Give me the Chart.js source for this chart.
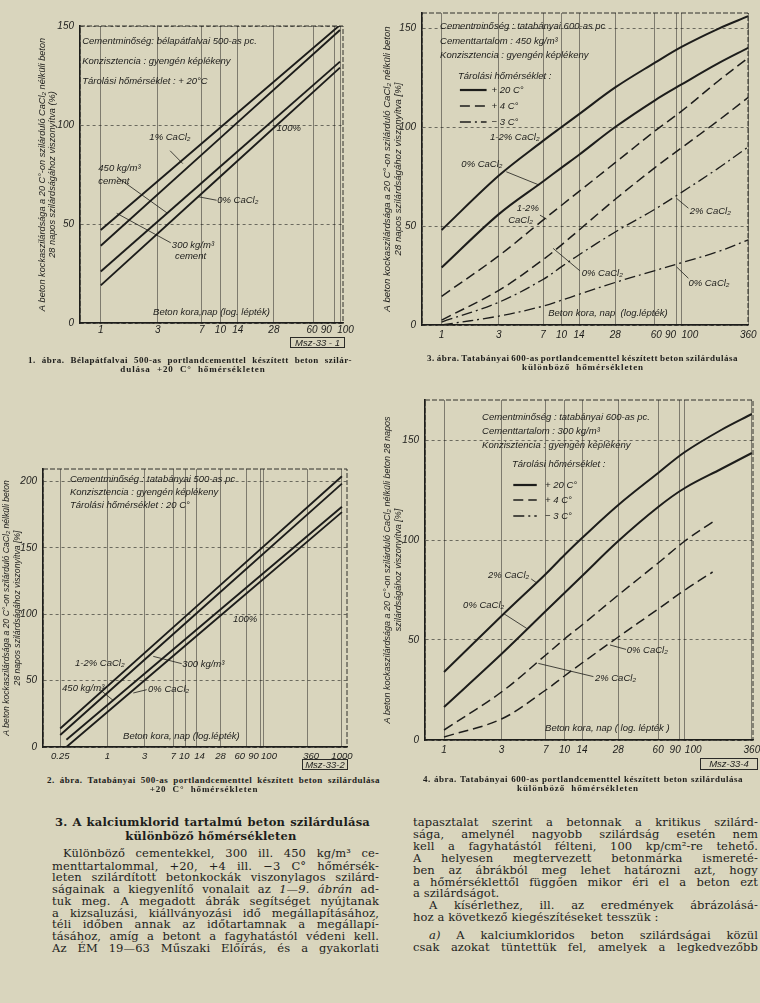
<!DOCTYPE html>
<html lang="hu">
<head>
<meta charset="utf-8">
<title>A kalciumklorid tartalmú beton szilárdulása</title>
<script src="https://cdn.jsdelivr.net/npm/chart.js@4.4.1/dist/chart.umd.min.js"></script>
<style>
  html, body { margin: 0; background: #d9d5bd; }
  #page { position: relative; width: 760px; height: 1003px; overflow: hidden; background: #d9d5bd; color: #1d1d1b; }
  .plot { position: absolute; }
  .cap { position: absolute; font: bold 9px "Liberation Serif", serif; line-height: 9px; height: 9px; white-space: nowrap; letter-spacing: 0.5px; }
  .row { display: flex; justify-content: space-between; }
  .mid { text-align: center; word-spacing: 3px; letter-spacing: 0.9px; }
  .msz { position: absolute; border: 1px solid #2b2b28; font: italic 9.5px "Liberation Sans", sans-serif; line-height: 10px; text-align: center; box-sizing: border-box; }
  .txt { position: absolute; font: 11.5px "DejaVu Serif", serif; line-height: 12px; height: 12px; white-space: nowrap; letter-spacing: 0.1px; }
  .head { font-weight: bold; letter-spacing: 0.2px; }
</style>
</head>
<body>
<div id="page"></div>
<script>
// 1. ábra - Bélapátfalvai 500-as pc, +20 C
let days1 = [1, 100];
let fig1Cem450Ca1 = [47, 150.5];
let fig1Cem450Ca0 = [39, 148];
let fig1Cem300Ca1 = [26, 132];
let fig1Cem300Ca0 = [19, 129];
let xTicks1 = [1, 3, 7, 10, 14, 28, 60, 90, 100];
let xLabels1 = ["1", "3", "7", "10", "14", "28", "60", "90", "100"];
let yTicks1 = [0, 50, 100, 150];

// 2. ábra - Tatabányai 500-as pc, +20 C
let days2a = [0.25, 1000];
let days2b = [0.3, 1000];
let fig2Top = [14, 204];
let fig2Second = [9, 198.5];
let fig2Third = [5.5, 181];
let fig2Bottom = [0, 177];
let xTicks2 = [0.25, 1, 3, 7, 10, 14, 28, 60, 90, 100, 360, 1000];
let xLabels2 = ["0.25", "1", "3", "7", "10", "14", "28", "60", "90", "100", "360", "1000"];
let yTicks2 = [0, 50, 100, 150, 200];

// 3. ábra - Tatabányai 600-as pc, 450 kg/m3
let days3 = [1, 3, 7, 10, 14, 28, 60, 100, 200, 360];
let fig3Plus20Ca12 = [48, 75.5, 93, 100, 106.5, 120, 132.5, 140.5, 149.5, 156];
let fig3Plus20Ca0 = [29, 56, 72.5, 79.5, 86, 100, 113.5, 121.5, 132, 140];
let fig3Plus4Ca12 = [14.5, 35, 53, 60.5, 67.5, 82, 98, 108, 123, 135];
let fig3Plus4Ca0 = [2.5, 17.5, 33, 40.5, 48, 63.5, 79.5, 89.5, 103, 115];
let fig3Minus3Ca2 = [1.5, 11.5, 23, 29.5, 35.5, 47, 58.5, 67, 79, 90];
let fig3Minus3Ca0 = [0, 4.5, 9.5, 12.5, 15.5, 21.5, 27.5, 31.5, 37, 43];
let xTicks3 = [1, 3, 7, 10, 14, 28, 60, 90, 100, 360];
let xLabels3 = ["1", "3", "7", "10", "14", "28", "60", "90", "100", "360"];
let yTicks3 = [0, 50, 100, 150];

// 4. ábra - Tatabányai 600-as pc, 300 kg/m3
let days4 = [1, 3, 7, 10, 14, 28, 60, 100, 200, 360];
let days4short = [1, 3, 7, 10, 14, 28, 60, 100, 170];
let fig4Plus20Ca2 = [34, 62, 83, 92.5, 101, 117.5, 133.5, 144, 155, 163];
let fig4Plus20Ca0 = [16.5, 43, 64.5, 73.5, 82, 99.5, 116.5, 126, 135.5, 143.5];
let fig4Plus4Ca2 = [5, 24, 42.5, 50.5, 57.5, 72.5, 88.5, 99.5, 109];
let fig4Plus4Ca0 = [1.5, 10.5, 25, 32, 38.5, 51.5, 65.5, 75, 84];
let xTicks4 = [1, 3, 7, 10, 14, 28, 60, 90, 100, 360];
let xLabels4 = ["1", "3", "7", "10", "14", "28", "60", "90", "100", "360"];
let yTicks4 = [0, 50, 100, 150];

// feliratok (nap, %)
let notes1 = [
  ["Cementminőség: bélapátfalvai 500-as pc.", 0.70, 142],
  ["Konzisztencia : gyengén képlékeny", 0.70, 132],
  ["Tárolási hőmérséklet : + 20°C", 0.70, 122],
  ["1% CaCl₂", 2.55, 94],
  ["450 kg/m³", 0.955, 78],
  ["cement", 0.955, 71.4],
  ["100%", 29.5, 98.3],
  ["0% CaCl₂", 9.4, 62],
  ["300 kg/m³", 3.93, 39.4],
  ["cement", 4.17, 33.5],
  ["Beton kora,nap (log. lépték)", 2.74, 5.6]
];
let leaders1 = [[3.8, 87, 4.85, 80.5], [1.37, 73.7, 3.58, 55.6], [1.36, 55.4, 3.85, 40.5], [9.3, 62, 6.5, 63.8]];

let notes2 = [
  ["Cementminőség : tatabányai 500-as pc", 0.333, 202],
  ["Konzisztencia : gyengén képlékeny", 0.333, 191.6],
  ["Tárolási hőmérséklet : 20 C°", 0.333, 181.8],
  ["100%", 40.5, 96],
  ["1-2% CaCl₂", 0.386, 63],
  ["300 kg/m³", 9.07, 62],
  ["450 kg/m³", 0.264, 44],
  ["0% CaCl₂", 3.32, 43.2],
  ["Beton kora, nap (log.lépték)", 1.59, 7.8]
];
let leaders2 = [[3.87, 68.3, 8.94, 62.8], [0.806, 43.2, 1.19, 35.1], [3.19, 43.2, 2.15, 40.7]];

let notes3 = [
  ["Cementminőség : tatabányai 600-as pc", 0.97, 151],
  ["Cementtartalom : 450 kg/m³", 0.97, 143.4],
  ["Konzisztencia : gyengén képlékeny", 0.97, 136.4],
  ["Tárolási hőmérséklet :", 1.37, 125.8],
  ["+ 20 C°", 2.61, 118.7],
  ["+ 4 C°", 2.61, 110.6],
  ["− 3 C°", 2.61, 102.5],
  ["1-2% CaCl₂", 2.53, 95],
  ["0% CaCl₂", 1.46, 81.3],
  ["1-2%", 4.22, 58.9],
  ["CaCl₂", 3.59, 53],
  ["0% CaCl₂", 14.7, 26.1],
  ["2% CaCl₂", 117, 57.2],
  ["0% CaCl₂", 114, 21.1],
  ["Beton kora, nap  (log.lépték)", 7.74, 5.9]
];
let leaders3 = [[3.46, 77.4, 6.5, 70.7], [6.6, 55.5, 7.5, 53.5], [8.5, 38.7, 14.2, 27.4], [90.7, 64, 114, 59], [90.7, 29.4, 114, 23.6]];
let keys3 = [[1.42, 2.37, 118.7, "solid"], [1.42, 2.37, 110.6, "dash"], [1.42, 2.37, 102.5, "dashdot"]];

let notes4 = [
  ["Cementminőség : tatabányai 600-as pc.", 2.07, 161.5],
  ["Cementtartalom : 300 kg/m³", 2.07, 154.5],
  ["Konzisztencia : gyengén képlékeny", 2.07, 147.5],
  ["Tárolási hőmérséklet :", 3.67, 138],
  ["+ 20 C°", 6.9, 127.5],
  ["+ 4 C°", 6.9, 120],
  ["− 3 C°", 6.9, 112],
  ["2% CaCl₂", 2.32, 82.5],
  ["0% CaCl₂", 1.44, 67.5],
  ["0% CaCl₂", 32.9, 45],
  ["2% CaCl₂", 17.9, 30.8],
  ["Beton kora, nap ( log. lépték )", 6.9, 5.8]
];
let leaders4 = [[3.11, 63.3, 4.86, 55.8], [5.3, 80.5, 5.9, 78.5], [23.9, 47.5, 32.5, 45.3], [6.07, 38.3, 17.4, 31.7]];
let keys4 = [[3.76, 5.89, 127.5, "solid"], [3.76, 5.89, 120, "dash"], [3.76, 5.89, 112, "dashdot"]];

let yTitle1 = ["A beton kockaszilárdsága a 20 C°-on szilárduló CaCl₂ nélküli beton", "28 napos szilárdságához viszonyítva (%)"];
let yTitle2 = ["A beton kockaszilárdsága a 20 C°-on szilárduló CaCl₂ nélküli beton", "28 napos szilárdságához viszonyítva [%]"];
let yTitle3 = ["A beton kockaszilárdsága a 20 C°-on szilárduló CaCl₂ nélküli beton", "28 napos szilárdságához viszonyítva [%]"];
let yTitle4 = ["A beton kockaszilárdsága a 20 C°-on szilárduló CaCl₂ nélküli beton 28 napos", "szilárdságához viszonyítva [%]"];

let page = document.querySelector("#page");
let INK = "#1d1d1b";
let SANS = '"Liberation Sans", Arial, sans-serif';
let dashes = { solid: [], dash: [10, 5], dashdot: [11, 4, 2, 4] };

// szóközökkel tolja el a sűrű címkéket (pl. 90 / 100)
function padLabel(text, shift) {
  let n = Math.round(Math.abs(shift) / 1.4);
  if (!n) return text;
  return shift < 0 ? text + " ".repeat(n) : " ".repeat(n) + text;
}

function paperPlugin(s) {
  return {
    id: "paper",
    afterDatasetsDraw(chart) {
      const { ctx, chartArea: a } = chart;
      const x = chart.scales.x, y = chart.scales.y;
      ctx.save();
      ctx.strokeStyle = INK;
      ctx.lineWidth = 0.9;
      ctx.setLineDash([5, 2]);
      ctx.strokeRect(a.left, a.top, a.right - a.left, a.bottom - a.top);

      ctx.setLineDash([]);
      ctx.lineWidth = 0.8;
      for (const [x1, y1, x2, y2] of s.leaders) {
        ctx.beginPath();
        ctx.moveTo(x.getPixelForValue(x1), y.getPixelForValue(y1));
        ctx.lineTo(x.getPixelForValue(x2), y.getPixelForValue(y2));
        ctx.stroke();
      }
      for (const [x1, x2, yv, style] of (s.keys || [])) {
        ctx.setLineDash(dashes[style]);
        ctx.lineWidth = style == "solid" ? 2.2 : 1.5;
        ctx.beginPath();
        ctx.moveTo(x.getPixelForValue(x1), y.getPixelForValue(yv));
        ctx.lineTo(x.getPixelForValue(x2), y.getPixelForValue(yv));
        ctx.stroke();
      }
      ctx.setLineDash([]);
      ctx.fillStyle = INK;
      ctx.font = "italic 9.5px " + SANS;
      ctx.textBaseline = "middle";
      ctx.textAlign = "left";
      for (const [t, xv, yv] of s.notes) {
        ctx.fillText(t, x.getPixelForValue(xv), y.getPixelForValue(yv));
      }
      ctx.font = "italic " + s.titleSize + "px " + SANS;
      ctx.textAlign = "center";
      const cy = (a.top + a.bottom) / 2;
      s.yTitle.forEach((t, i) => {
        ctx.save();
        ctx.translate(a.left + s.titleAt[i], cy);
        ctx.rotate(-Math.PI / 2);
        ctx.fillText(t, 0, 0);
        ctx.restore();
      });
      ctx.restore();
    }
  };
}

function makeChart(s) {
  let [bx, by, bw, bh] = s.box;
  let [L, T, R, B] = s.area;
  let wrap = document.createElement("div");
  wrap.className = "plot";
  wrap.style.left = bx + "px";
  wrap.style.top = by + "px";
  wrap.style.width = bw + "px";
  wrap.style.height = bh + "px";
  let canvas = document.createElement("canvas");
  wrap.appendChild(canvas);
  page.appendChild(wrap);

  const tickFont = { family: SANS, size: s.tickSize || 10, style: "italic" };
  const datasets = s.lines.map(([xs, ys, style, width]) => ({
    data: xs.map((d, i) => ({ x: d, y: ys[i] })),
    borderColor: INK,
    borderWidth: width,
    borderDash: dashes[style],
    pointRadius: 0,
    fill: false,
    tension: 0.35
  }));

  new Chart(canvas, {
    type: "line",
    data: { datasets },
    options: {
      responsive: true,
      maintainAspectRatio: false,
      animation: false,
      layout: { padding: { top: T - by, right: bx + bw - R, left: 0, bottom: 0 } },
      plugins: { legend: { display: false }, tooltip: { enabled: false } },
      scales: {
        x: {
          type: "logarithmic",
          min: s.xMin,
          max: s.xMax,
          afterBuildTicks: sc => { sc.ticks = s.xTicks.map(v => ({ value: v })); },
          afterFit: sc => { sc.height = by + bh - B; sc.paddingLeft = 0; sc.paddingRight = 0; },
          ticks: {
            autoSkip: false, maxRotation: 0, padding: s.xPad, font: tickFont, color: INK,
            callback: (v, i) => padLabel(s.xLabels[i], s.xShift[i])
          },
          grid: { color: "rgba(30,30,28,0.55)", lineWidth: 0.9, drawTicks: false },
          border: { color: INK, width: 1.6 }
        },
        y: {
          type: "linear",
          min: 0,
          max: s.yMax,
          afterBuildTicks: sc => { sc.ticks = s.yTicks.map(v => ({ value: v })); },
          afterFit: sc => { sc.width = L - bx; sc.paddingTop = 0; sc.paddingBottom = 0; },
          ticks: { padding: 6, font: { family: SANS, size: 10, style: "italic" }, color: INK, callback: v => String(v) },
          grid: { color: "rgba(30,30,28,0.65)", lineWidth: 0.9, drawTicks: false },
          border: { color: INK, width: 1.6, dash: [3, 3] }
        }
      }
    },
    plugins: [paperPlugin(s)]
  });
}

makeChart({
  box: [28, 12, 334, 330], area: [80, 26, 343, 323],
  xMin: 0.671, xMax: 105.9, yMax: 150,
  xTicks: xTicks1, xLabels: xLabels1, xShift: [0, 0, 0, 0, 0, 0, -2, -8, 5], xPad: 1.5,
  yTicks: yTicks1,
  lines: [
    [days1, fig1Cem450Ca1, "solid", 1.9],
    [days1, fig1Cem450Ca0, "solid", 1.9],
    [days1, fig1Cem300Ca1, "solid", 1.9],
    [days1, fig1Cem300Ca0, "solid", 1.9]
  ],
  notes: notes1, leaders: leaders1,
  yTitle: yTitle1, titleAt: [-38, -28], titleSize: 9.2
});

makeChart({
  box: [380, 0, 380, 345], area: [422, 13, 748, 325],
  xMin: 0.686, xMax: 358, yMax: 157.6,
  xTicks: xTicks3, xLabels: xLabels3, xShift: [0, 0, 0, 0, 0, 0, 2, -6, 8, 0], xPad: 4.5,
  yTicks: yTicks3,
  lines: [
    [days3, fig3Plus20Ca12, "solid", 2],
    [days3, fig3Plus20Ca0, "solid", 2],
    [days3, fig3Plus4Ca12, "dash", 1.5],
    [days3, fig3Plus4Ca0, "dash", 1.5],
    [days3, fig3Minus3Ca2, "dashdot", 1.3],
    [days3, fig3Minus3Ca0, "dashdot", 1.3]
  ],
  notes: notes3, leaders: leaders3, keys: keys3,
  yTitle: yTitle3, titleAt: [-35, -24], titleSize: 9.6
});

makeChart({
  box: [0, 455, 372, 312], area: [43, 469, 347, 747],
  xMin: 0.1506, xMax: 1161, yMax: 209.5,
  xTicks: xTicks2, xLabels: xLabels2, xShift: [0, 0, 0, 0, -1, 3, 0, -7, -7, 5, 4, 0], xPad: 3.5, tickSize: 9.5,
  yTicks: yTicks2,
  lines: [
    [days2a, fig2Top, "solid", 1.9],
    [days2a, fig2Second, "solid", 1.9],
    [days2b, fig2Third, "solid", 1.9],
    [days2b, fig2Bottom, "solid", 1.9]
  ],
  notes: notes2, leaders: leaders2,
  yTitle: yTitle2, titleAt: [-36, -25], titleSize: 8.6
});

makeChart({
  box: [380, 386, 380, 378], area: [425, 400, 753, 740],
  xMin: 0.695, xMax: 368, yMax: 170,
  xTicks: xTicks4, xLabels: xLabels4, xShift: [0, 0, 0, 0, 0, 0, 0, -4, 8, 0], xPad: 4.5,
  yTicks: yTicks4,
  lines: [
    [days4, fig4Plus20Ca2, "solid", 2],
    [days4, fig4Plus20Ca0, "solid", 2],
    [days4short, fig4Plus4Ca2, "dash", 1.5],
    [days4short, fig4Plus4Ca0, "dash", 1.5]
  ],
  notes: notes4, leaders: leaders4, keys: keys4,
  yTitle: yTitle4, titleAt: [-38, -27], titleSize: 9
});

// szöveg
function addText(cls, html, left, top, width, justify, align) {
  let d = document.createElement("div");
  d.className = cls + (justify ? " row" : "");
  d.style.left = left + "px";
  d.style.top = top + "px";
  if (width) d.style.width = width + "px";
  if (align) d.style.textAlign = align;
  if (justify) {
    for (const w of html.split(" ")) {
      let s = document.createElement("span");
      s.innerHTML = w;
      d.appendChild(s);
    }
  } else {
    d.innerHTML = html;
  }
  page.appendChild(d);
}

function msz(text, left, top, width, height) {
  let d = document.createElement("div");
  d.className = "msz";
  d.textContent = text;
  d.style.left = left + "px";
  d.style.top = top + "px";
  d.style.width = width + "px";
  d.style.height = height + "px";
  page.appendChild(d);
}

msz("Msz-33 - 1", 290, 337, 55, 11);
msz("Msz-33-2", 302, 759, 46, 11);
msz("Msz-33-4", 700, 758, 58, 12);

let captions = [
  ["1. ábra. Bélapátfalvai 500-as portlandcementtel készített beton szilár-", "dulása +20 C° hőmérsékleten", 28, 324, 355.5, 193],
  ["3. ábra. Tatabányai 600-as portlandcementtel készített beton szilárdulása", "különböző hőmérsékleten", 427, 311, 354, 583],
  ["2. ábra. Tatabányai 500-as portlandcementtel készített beton szilárdulása", "+20 C° hőmérsékleten", 47, 333, 775.5, 204],
  ["4. ábra. Tatabányai 600-as portlandcementtel készített beton szilárdulása", "különböző hőmérsékleten", 423, 320, 774.5, 578]
];
for (const [l1, l2, left, width, top, center] of captions) {
  addText("cap", l1, left, top, width, true);
  addText("cap mid", l2, center - 150, top + 9, 300, false);
}

let headLines = ["3. A kalciumklorid tartalmú beton szilárdulása", "különböző hőmérsékleten"];
let leftLines = [
  "Különböző cementekkel, 300 ill. 450 kg/m³ ce-",
  "menttartalommal, +20, +4 ill. −3 C° hőmérsék-",
  "leten szilárdított betonkockák viszonylagos szilárd-",
  "ságainak a kiegyenlítő vonalait az <i>1—9.</i> <i>ábrán</i> ad-",
  "tuk meg. A megadott ábrák segítséget nyújtanak",
  "a kizsaluzási, kiállványozási idő megállapításához,",
  "téli időben annak az időtartamnak a megállapí-",
  "tásához, amíg a betont a fagyhatástól védeni kell.",
  "Az ÉM 19—63 Műszaki Előírás, és a gyakorlati"
];
let rightLines = [
  "tapasztalat szerint a betonnak a kritikus szilárd-",
  "sága, amelynél nagyobb szilárdság esetén nem",
  "kell a fagyhatástól félteni, 100 kp/cm²-re tehető.",
  "A helyesen megtervezett betonmárka ismereté-",
  "ben az ábrákból meg lehet határozni azt, hogy",
  "a hőmérséklettől függően mikor éri el a beton ezt",
  "a szilárdságot.",
  "A kísérlethez, ill. az eredmények ábrázolásá-",
  "hoz a következő kiegészítéseket tesszük :",
  "<i>a)</i> A kalciumkloridos beton szilárdságai közül",
  "csak azokat tüntettük fel, amelyek a legkedvezőbb"
];
let leftY = [853.3, 865.5, 877.3, 889, 900.7, 912.7, 924.3, 936, 948.3];
let rightY = [822, 834, 846, 858, 870, 881.5, 893.3, 905, 917, 935, 947];
let rightIndent = [0, 0, 0, 0, 0, 0, 0, 16, 0, 16, 0];
let rightJustify = [1, 1, 1, 1, 1, 1, 0, 1, 0, 1, 1];

addText("txt head", headLines[0], 55, 815.5, 315, true);
addText("txt head", headLines[1], 61, 829.5, 300, false, "center");
leftLines.forEach((t, i) => {
  let ind = i == 0 ? 11 : 0;
  addText("txt", t, 52 + ind, leftY[i] - 6, 327 - ind, true);
});
rightLines.forEach((t, i) => {
  addText("txt", t, 413 + rightIndent[i], rightY[i] - 6, 345 - rightIndent[i], !!rightJustify[i]);
});
</script>
</body>
</html>
